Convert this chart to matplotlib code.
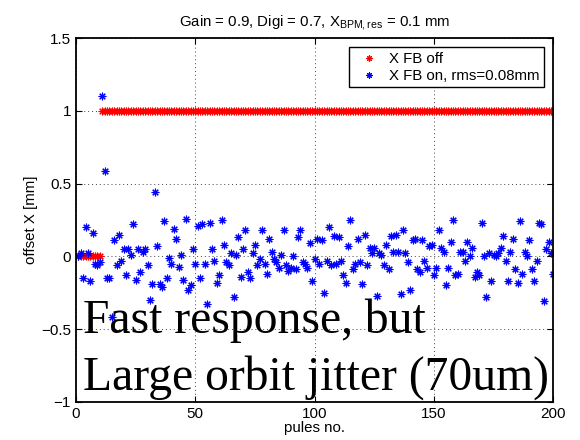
import matplotlib
matplotlib.use("Agg")
import matplotlib.pyplot as plt
import numpy as np

# ---- data ----
pulses = list(range(1, 201))
fb_off = [0.0] * 10 + [1.0] * 190
fb_on = [
    0.00, 0.02, -0.15, 0.20, 0.02, -0.17, 0.16, -0.05, -0.06, -0.04,   # 1-10
    1.10, 0.59, -0.15, -0.15, -0.42, 0.11, -0.06, 0.15, -0.03, 0.05,   # 11-20
    -0.13, 0.05, 0.01, 0.22, -0.16, 0.05, -0.11, 0.03, 0.05, -0.06,    # 21-30
    -0.30, -0.19, 0.44, 0.07, -0.19, -0.21, 0.24, -0.15, -0.01, -0.05, # 31-40
    0.19, 0.12, -0.07, 0.01, -0.16, 0.26, -0.23, -0.20, 0.05, -0.05,   # 41-50
    0.21, -0.15, 0.22, -0.05, -0.33, 0.23, 0.05, -0.03, -0.18, -0.13,  # 51-60
    0.25, 0.08, -0.04, -0.06, 0.02, -0.28, 0.01, 0.13, -0.14, 0.05,    # 61-70
    0.18, -0.11, -0.15, 0.02, 0.08, -0.06, -0.02, 0.18, -0.05, -0.12,  # 71-80
    0.12, 0.03, -0.02, -0.04, -0.08, 0.01, 0.18, -0.06, -0.10, -0.08,  # 81-90
    0.00, -0.09, 0.13, 0.18, -0.04, -0.05, -0.08, 0.09, -0.17, -0.02,  # 91-100
    0.12, -0.05, 0.11, -0.25, -0.03, 0.20, -0.06, 0.14, -0.05, 0.13,   # 101-110
    -0.03, -0.13, -0.18, 0.07, 0.25, -0.09, -0.05, 0.12, -0.04, -0.19, # 111-120
    0.15, -0.06, 0.06, 0.02, 0.055, -0.27, 0.02, 0.01, -0.06, 0.08,    # 121-130
    -0.09, 0.14, 0.03, 0.15, 0.03, -0.26, 0.18, 0.02, -0.04, -0.23,    # 131-140
    0.115, 0.12, -0.09, -0.11, 0.115, -0.03, -0.08, 0.07, 0.08, -0.13, # 141-150
    -0.08, 0.18, 0.06, 0.03, -0.20, -0.08, 0.10, 0.25, -0.13, -0.12,   # 151-160
    0.03, 0.03, -0.03, 0.10, 0.00, 0.06, -0.14, -0.11, -0.13, 0.23,    # 161-170
    0.00, -0.28, 0.02, -0.17, 0.01, 0.00, 0.02, 0.06, 0.14, -0.03,     # 171-180
    -0.17, 0.03, 0.12, -0.09, -0.18, 0.24, -0.12, 0.03, 0.005, 0.115,  # 181-190
    -0.09, -0.17, -0.03, 0.23, 0.22, -0.31, 0.05, 0.10, 0.02, -0.12,   # 191-200
]
xticks = [0, 50, 100, 150, 200]
yticks = [-1, -0.5, 0, 0.5, 1, 1.5]
ytick_labels = ["\u22121", "\u22120.5", "0", "0.5", "1", "1.5"]
title = r"Gain = 0.9, Digi = 0.7, X$_{\mathregular{BPM,res}}$ = 0.1 mm"
legend_labels = ["X FB off", "X FB on, rms=0.08mm"]
overlay_lines = ["Fast response, but", "Large orbit jitter (70um)"]

plt.rcParams["font.family"] = ["Liberation Sans", "DejaVu Sans"]
plt.rcParams["mathtext.default"] = "regular"

fig = plt.figure(figsize=(5.8, 4.4), dpi=100)
ax = fig.add_axes([0.131, 0.087, 0.823, 0.826])

asterisk = (8, 2, 0)
ax.plot(pulses, fb_off, linestyle="none", marker=asterisk, color="red",
        markersize=5.5, markeredgewidth=0.8, label=legend_labels[0])
ax.plot(pulses, fb_on, linestyle="none", marker=asterisk, color="blue",
        markersize=5.5, markeredgewidth=0.8, label=legend_labels[1])

ax.set_xlim(0, 200)
ax.set_ylim(-1, 1.5)
ax.set_xticks(xticks)
ax.set_yticks(yticks)
ax.set_yticklabels(ytick_labels)
ax.tick_params(direction="in", top=True, right=True, labelsize=11, length=4)
ax.grid(True, linestyle=(0, (1, 3)), color="#444444", linewidth=0.7)
for s in ax.spines.values():
    s.set_linewidth(1.3)

ax.set_title(title, fontsize=10.8, pad=9)
ax.set_xlabel("pules no.", fontsize=10.8, labelpad=0)
ax.set_ylabel("offset X [mm]", fontsize=10.8, labelpad=2)

leg = ax.legend(loc="upper right", fontsize=10.8, frameon=True, fancybox=False,
                borderaxespad=0.6, handletextpad=0.3, borderpad=0.3,
                handlelength=2.1, labelspacing=0.2, markerscale=0.8)
leg.get_frame().set_edgecolor("black")
leg.get_frame().set_linewidth(1.0)
leg.get_frame().set_alpha(1)

ax.text(0.014, 0.189, overlay_lines[0], transform=ax.transAxes,
        family=["Liberation Serif"], fontsize=34.3, color="black", va="baseline")
ax.text(0.014, 0.032, overlay_lines[1], transform=ax.transAxes,
        family=["Liberation Serif"], fontsize=34.3, color="black", va="baseline")

fig.savefig("out.png", dpi=100)
